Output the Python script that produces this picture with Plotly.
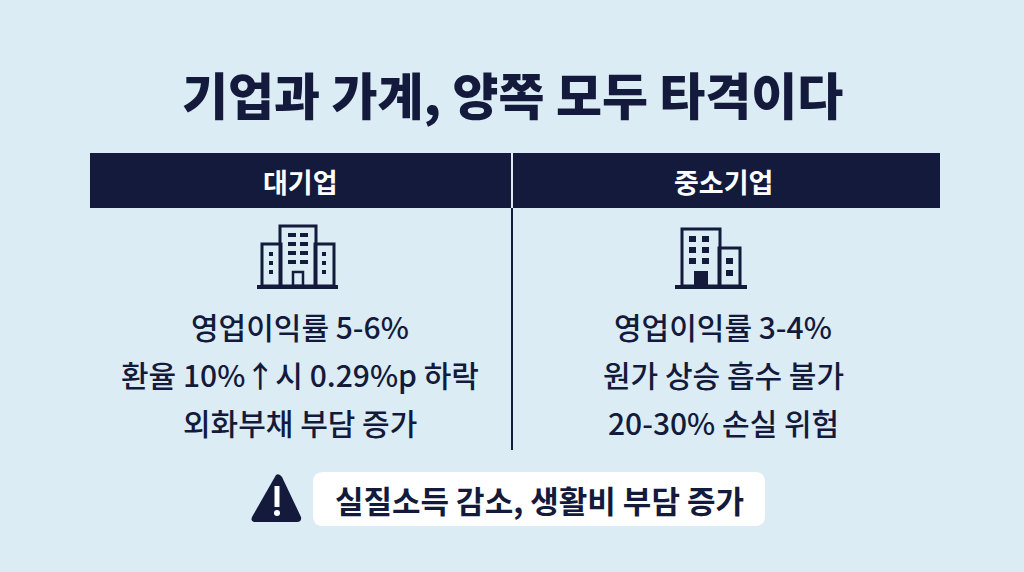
import plotly.graph_objects as go

title = "기업과 가계, 양쪽 모두 타격이다"
headers = ["대기업", "중소기업"]
left_lines = ["영업이익률 5-6%", "환율 10%↑시 0.29%p 하락", "외화부채 부담 증가"]
right_lines = ["영업이익률 3-4%", "원가 상승 흡수 불가", "20-30% 손실 위험"]
warning = "실질소득 감소, 생활비 부담 증가"

NAVY = "#131a3b"
BG = "#dbecf5"
FONT = "Noto Sans CJK KR"

fig = go.Figure()
shapes = []
ann = []

def rect(x0, y0, x1, y1, fill=NAVY, line=None, lw=0):
    shapes.append(dict(type="rect", x0=x0, y0=y0, x1=x1, y1=y1, fillcolor=fill,
                       line=dict(color=line or fill, width=lw), layer="above"))

def orect(x0, y0, x1, y1, lw=3):
    shapes.append(dict(type="rect", x0=x0, y0=y0, x1=x1, y1=y1, fillcolor="rgba(0,0,0,0)",
                       line=dict(color=NAVY, width=lw), layer="above"))

rect(90, 153, 940, 208)
rect(511, 153, 513, 208, fill=BG)
shapes.append(dict(type="line", x0=512, x1=512, y0=208, y1=450, line=dict(color=NAVY, width=2)))

ann.append(dict(x=512, y=93, text=title, font=dict(size=50, color=NAVY, family=FONT, weight=900)))
for cx, h in zip([300, 723], headers):
    ann.append(dict(x=cx, y=181, text=h, font=dict(size=27, color="white", family=FONT, weight=700)))
for cx, lines in zip([300, 723], [left_lines, right_lines]):
    for i, t in enumerate(lines):
        ann.append(dict(x=cx, y=326 + 48 * i, text=t, font=dict(size=30, color=NAVY, family=FONT, weight=500)))

orect(280, 226, 316, 286)
orect(262, 244, 281, 286)
orect(315, 244, 334, 286)
rect(257, 285, 338, 289)
for r in range(4):
    for c in range(2):
        rect(288 + c * 12, 233 + r * 9, 296 + c * 12, 237 + r * 9)
for r in range(3):
    rect(269, 252 + r * 9, 273, 256 + r * 9)
    rect(322, 252 + r * 9, 326, 256 + r * 9)
orect(293, 272, 303, 286, lw=2.5)

orect(682, 229, 720, 286)
orect(719, 248, 740, 286)
rect(675, 285, 747, 289)
for r in range(3):
    for c in range(2):
        rect(689 + c * 13, 236 + r * 11, 696 + c * 13, 242 + r * 11)
for r in range(2):
    rect(726, 258 + r * 12, 733, 264 + r * 12)
rect(694, 271, 708, 286)

x0, y0, x1, y1, rr = 313, 472, 765, 526, 10
shapes.append(dict(type="path", path=(f"M{x0+rr},{y0} L{x1-rr},{y0} Q{x1},{y0} {x1},{y0+rr} "
               f"L{x1},{y1-rr} Q{x1},{y1} {x1-rr},{y1} L{x0+rr},{y1} Q{x0},{y1} {x0},{y1-rr} "
               f"L{x0},{y0+rr} Q{x0},{y0} {x0+rr},{y0} Z"), fillcolor="white", line=dict(width=0)))
shapes.append(dict(type="path", path="M276,475 Q279,473 282,477 L301,517 Q302,522 297,522 L256,522 Q250,522 252,517 Z",
                   fillcolor=NAVY, line=dict(width=0)))
rect(274.5, 486, 279.5, 507, fill="white")
shapes.append(dict(type="circle", x0=274, y0=510, x1=280, y1=516, fillcolor="white", line=dict(width=0)))
ann.append(dict(x=539, y=499, text=warning, font=dict(size=31, color=NAVY, family=FONT, weight=700)))

for a in ann:
    a.update(xref="x", yref="y", showarrow=False, xanchor="center", yanchor="middle")

fig.update_layout(width=1024, height=572, margin=dict(l=0, r=0, t=0, b=0),
                  paper_bgcolor=BG, plot_bgcolor=BG, shapes=shapes, annotations=ann,
                  xaxis=dict(range=[0, 1024], visible=False, fixedrange=True),
                  yaxis=dict(range=[572, 0], visible=False, fixedrange=True),
                  showlegend=False)
fig.write_html("out.html", config={"displayModeBar": False})
with open("out.html", encoding="utf-8") as f:
    html = f.read()
html = html.replace("<head>", "<head><style>html,body{margin:0;padding:0;background:%s;overflow:hidden}</style>" % BG, 1)
with open("out.html", "w", encoding="utf-8") as f:
    f.write(html)
